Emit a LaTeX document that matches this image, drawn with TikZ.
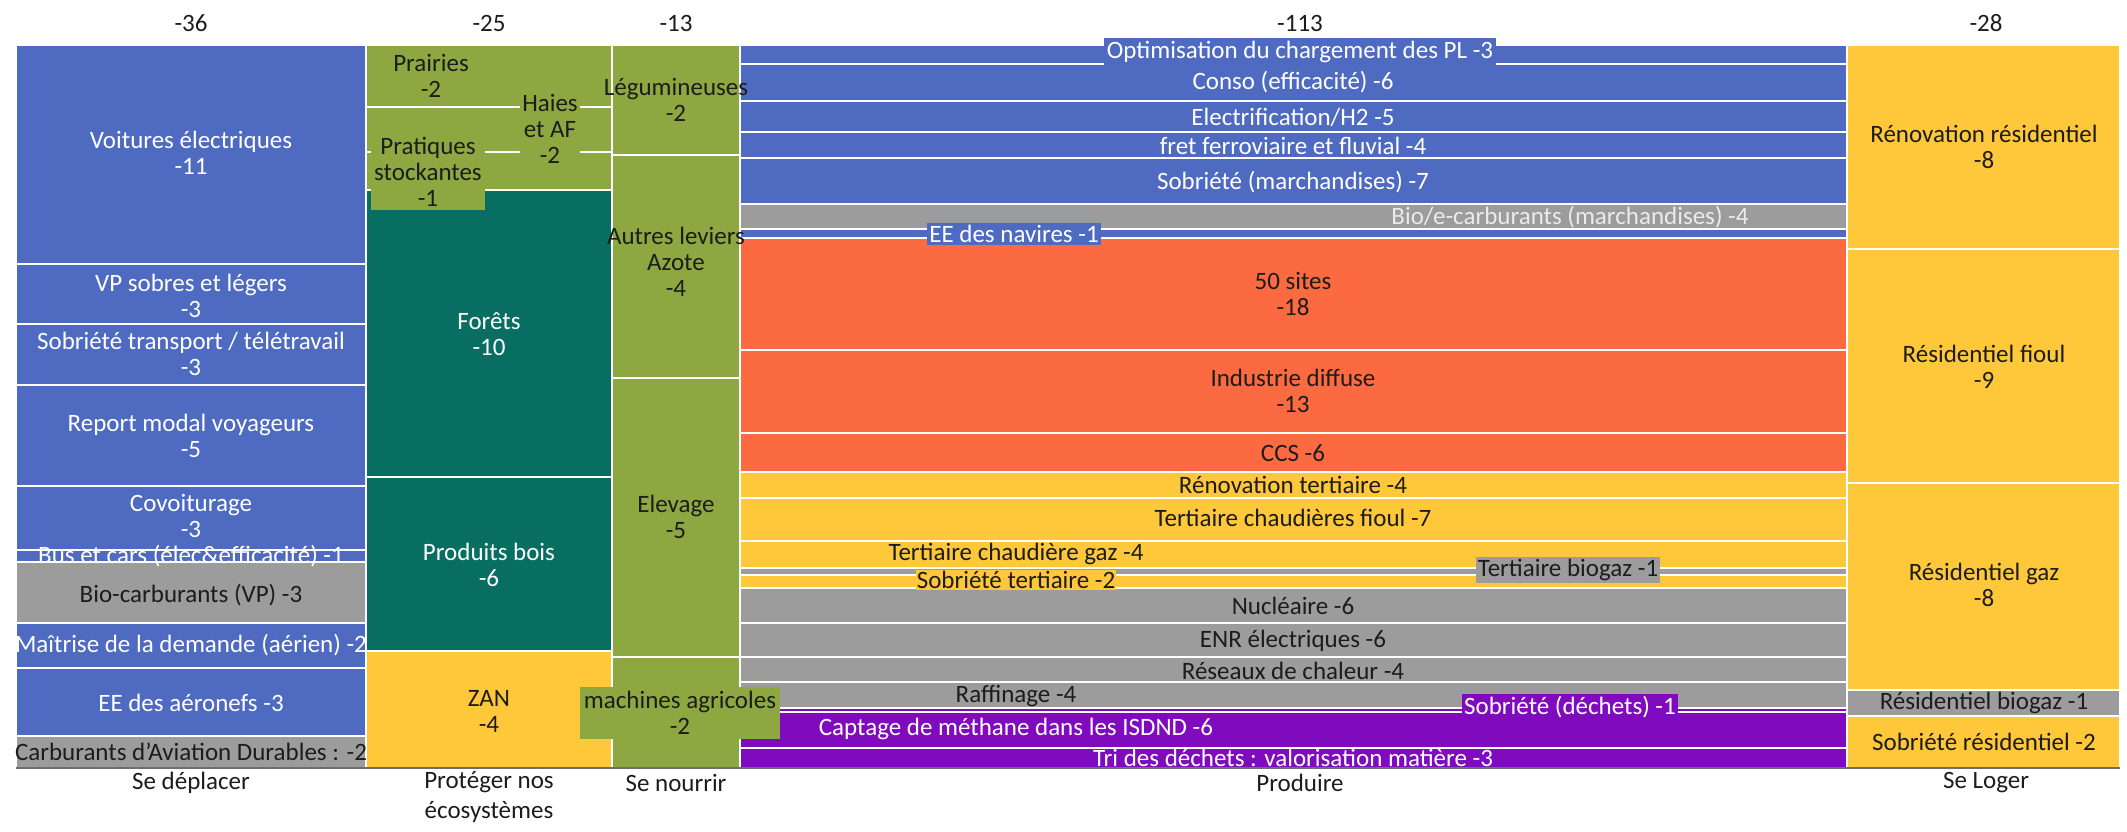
\documentclass[tikz,border=0pt]{standalone}
\usepackage{fontspec}
\setmainfont{Carlito}
\definecolor{cblue}{RGB}{78,106,193}
\definecolor{cgreen}{RGB}{141,168,65}
\definecolor{cteal}{RGB}{8,110,98}
\definecolor{corange}{RGB}{252,106,66}
\definecolor{cyellow}{RGB}{255,199,58}
\definecolor{cgray}{RGB}{156,156,156}
\definecolor{cpurple}{RGB}{128,10,190}
\definecolor{cdark}{RGB}{28,28,28}
\definecolor{caxis}{RGB}{110,110,110}
\newcommand\fsz{\fontsize{25}{26}\selectfont}
\begin{document}
\begin{tikzpicture}[x=1pt,y=-1pt,
  blk/.style={fill=#1, draw=white, line width=2.5pt},
  lab/.style={font=\fsz, align=center, inner sep=1pt, text=cdark},
  labw/.style={lab, text=white},
  hdr/.style={font=\fsz, align=center, inner sep=1pt, text=cdark}]
\useasboundingbox (0,0) rectangle (2127,832);
% ---------- Se deplacer
\path[blk=cblue] (16,45) rectangle (366,264);
\path[blk=cblue] (16,264) rectangle (366,324);
\path[blk=cblue] (16,324) rectangle (366,385);
\path[blk=cblue] (16,385) rectangle (366,486);
\path[blk=cblue] (16,486) rectangle (366,550);
\path[blk=cblue] (16,550) rectangle (366,562);
\path[blk=cgray] (16,562) rectangle (366,623);
\path[blk=cblue] (16,623) rectangle (366,668);
\path[blk=cblue] (16,668) rectangle (366,736);
\path[blk=cgray] (16,736) rectangle (366,768);
% ---------- Proteger
\path[blk=cgreen] (366,45) rectangle (612,107);
\path[blk=cgreen] (366,107) rectangle (612,152);
\path[blk=cgreen] (366,152) rectangle (612,190);
\path[blk=cteal] (366,190) rectangle (612,477);
\path[blk=cteal] (366,477) rectangle (612,651);
\path[blk=cyellow] (366,651) rectangle (612,768);
% ---------- Se nourrir
\path[blk=cgreen] (612,45) rectangle (740,155);
\path[blk=cgreen] (612,155) rectangle (740,378);
\path[blk=cgreen] (612,378) rectangle (740,657);
\path[blk=cgreen] (612,657) rectangle (740,768);
% ---------- Produire
\path[blk=cblue] (740,45) rectangle (1847,64);
\path[blk=cblue] (740,64) rectangle (1847,101);
\path[blk=cblue] (740,101) rectangle (1847,132);
\path[blk=cblue] (740,132) rectangle (1847,158);
\path[blk=cblue] (740,158) rectangle (1847,204);
\path[blk=cgray] (740,204) rectangle (1847,229);
\path[blk=cblue] (740,229) rectangle (1847,238);
\path[blk=corange] (740,238) rectangle (1847,350);
\path[blk=corange] (740,350) rectangle (1847,433);
\path[blk=corange] (740,433) rectangle (1847,472);
\path[blk=cyellow] (740,472) rectangle (1847,498);
\path[blk=cyellow] (740,498) rectangle (1847,541);
\path[blk=cyellow] (740,541) rectangle (1847,568);
\path[blk=cgray] (740,568) rectangle (1847,575);
\path[blk=cyellow] (740,575) rectangle (1847,588);
\path[blk=cgray] (740,588) rectangle (1847,623);
\path[blk=cgray] (740,623) rectangle (1847,657);
\path[blk=cgray] (740,657) rectangle (1847,682);
\path[blk=cgray] (740,682) rectangle (1847,708);
\path[blk=cpurple] (740,708) rectangle (1847,712);
\path[blk=cpurple] (740,712) rectangle (1847,748);
\path[blk=cpurple] (740,748) rectangle (1847,768);
% ---------- Se loger
\path[blk=cyellow] (1847,45) rectangle (2120,249);
\path[blk=cyellow] (1847,249) rectangle (2120,483);
\path[blk=cyellow] (1847,483) rectangle (2120,690);
\path[blk=cgray] (1847,690) rectangle (2120,716);
\path[blk=cyellow] (1847,716) rectangle (2120,768);
\draw[caxis, line width=2pt] (16,768) -- (2120,768);
% ---------- headers
\node[hdr] (t1) at (191,23) {-36};
\node[hdr] (t2) at (489,23) {-25};
\node[hdr] (t3) at (676,23) {-13};
\node[hdr] (t4) at (1300,23) {-113};
\node[hdr] (t5) at (1986,23) {-28};
\node[hdr] (b1) at (191,783) {Se déplacer};
\node[hdr, font=\fontsize{25}{30}\selectfont, anchor=north] (b2) at (489,770) {Protéger nos\\écosystèmes};
\node[hdr] (b3) at (676,783) {Se nourrir};
\node[hdr] (b4) at (1300,783) {Produire};
\node[hdr] (b5) at (1986,783) {Se Loger};
% ---------- labels col1
\node[labw] (ve) at (191,153) {Voitures électriques\\-11};
\node[labw] (vp) at (191,296) {VP sobres et légers\\-3};
\node[labw] (st) at (191,354) {Sobriété transport / télétravail\\-3};
\node[labw] (rm) at (191,436) {Report modal voyageurs\\-5};
\node[labw] (cv) at (191,516) {Covoiturage\\-3};
\node[labw] (bc) at (191,556) {Bus et cars (élec\&efficacité) -1};
\node[lab] (bv) at (191,595) {Bio-carburants (VP) -3};
\node[labw] (md) at (191,645) {Maîtrise de la demande (aérien) -2};
\node[labw] (ea) at (191,703) {EE des aéronefs -3};
\node[lab] (cad) at (191,752) {Carburants d'Aviation Durables : -2};
% ---------- labels col2
\node[lab] (pr) at (431,76) {Prairies\\-2};
\node[lab, fill=cgreen, inner sep=2pt] (ha) at (550,129) {Haies\\et AF\\-2};
\node[lab, fill=cgreen, inner sep=3pt] (ps) at (428,172) {Pratiques\\stockantes\\-1};
\node[labw] (fo) at (489,334) {Forêts\\-10};
\node[labw] (pb) at (489,565) {Produits bois\\-6};
\node[lab] (zan) at (489,711) {ZAN\\-4};
% ---------- labels col3
\node[lab] (lg) at (676,100) {Légumineuses\\-2};
\node[lab] (az) at (676,262) {Autres leviers\\Azote\\-4};
\node[lab] (el) at (676,517) {Elevage\\-5};
\node[lab, fill=cgreen, inner sep=4pt] (ma) at (680,713) {machines agricoles\\-2};
% ---------- labels col4
\node[labw, fill=cblue, inner sep=3pt] (op) at (1300,52) {Optimisation du chargement des PL -3};
\node[labw] (co) at (1293,82) {Conso (efficacité) -6};
\node[labw] (eh) at (1293,117) {Electrification/H2 -5};
\node[labw] (ff) at (1293,146) {fret ferroviaire et fluvial -4};
\node[labw] (sm) at (1293,182) {Sobriété (marchandises) -7};
\node[lab, text=white!92!black] (be) at (1570,217) {Bio/e-carburants (marchandises) -4};
\node[labw, fill=cblue, inner sep=2pt] (en) at (1014,234) {EE des navires -1};
\node[lab] (s50) at (1293,294) {50 sites\\-18};
\node[lab] (id) at (1293,391) {Industrie diffuse\\-13};
\node[lab] (ccs) at (1293,453) {CCS -6};
\node[lab] (rt) at (1293,485) {Rénovation tertiaire -4};
\node[lab] (tf) at (1293,518) {Tertiaire chaudières fioul -7};
\node[lab] (tg) at (1016,554) {Tertiaire chaudière gaz -4};
\node[lab, fill=cgray, inner sep=2pt] (tb) at (1568,570) {Tertiaire biogaz -1};
\node[lab, fill=cyellow, inner sep=1pt] (sti) at (1016,580) {Sobriété tertiaire -2};
\node[lab] (nu) at (1293,606) {Nucléaire -6};
\node[lab] (enr) at (1293,641) {ENR électriques -6};
\node[lab] (rc) at (1293,671) {Réseaux de chaleur -4};
\node[lab] (raf) at (1016,696) {Raffinage -4};
\node[labw, fill=cpurple, inner sep=2pt] (sd) at (1570,707) {Sobriété (déchets) -1};
\node[labw, fill=cpurple, inner sep=4pt] (cap) at (1016,729) {Captage de méthane dans les ISDND -6};
\node[labw] (tri) at (1293,758) {Tri des déchets : valorisation matière -3};
% ---------- labels col5
\node[lab] (rr) at (1984,147) {Rénovation résidentiel\\-8};
\node[lab] (rf) at (1984,367) {Résidentiel fioul\\-9};
\node[lab] (rg) at (1984,585) {Résidentiel gaz\\-8};
\node[lab] (rb) at (1984,703) {Résidentiel biogaz -1};
\node[lab] (sr) at (1984,742) {Sobriété résidentiel -2};
\end{tikzpicture}
\end{document}
